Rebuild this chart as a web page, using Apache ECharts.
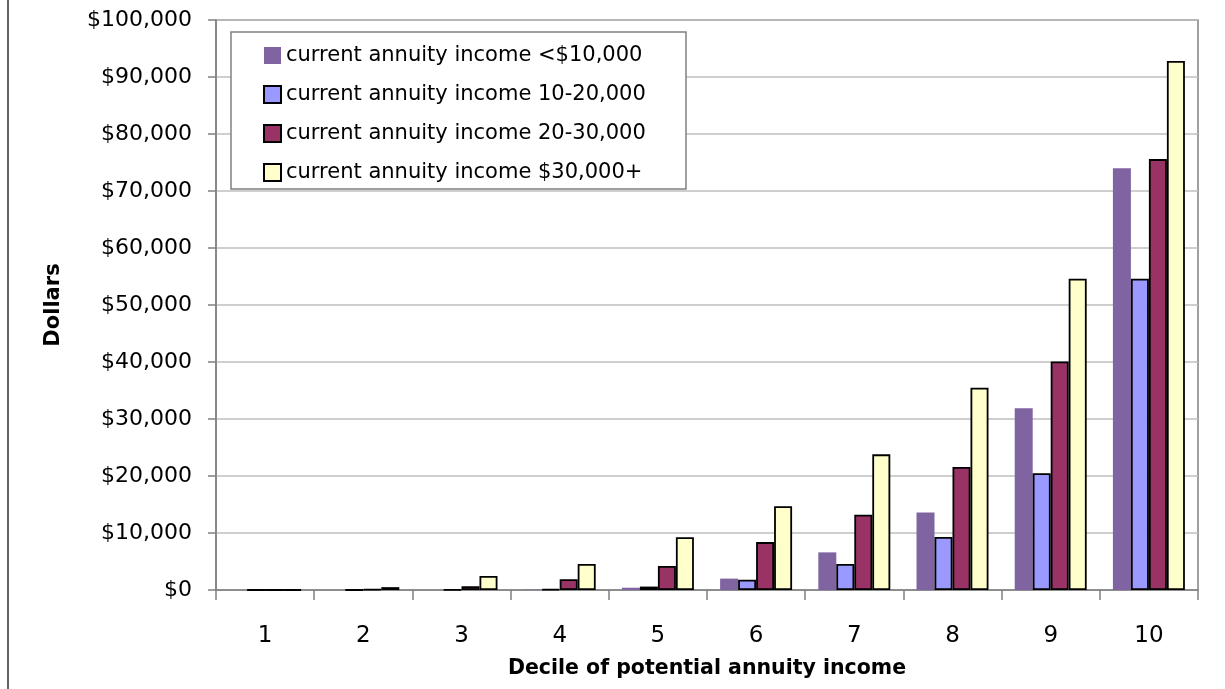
<!DOCTYPE html>
<html>
<head>
<meta charset="utf-8">
<script src="https://cdn.jsdelivr.net/npm/echarts@6/dist/echarts.min.js"></script>
<style>
  html, body { margin: 0; padding: 0; background: #ffffff; }
  #chart { width: 1225px; height: 689px; }
</style>
</head>
<body>
<div id="chart"></div>
<script>
// Deciles of potential annuity income
const deciles = ['1', '2', '3', '4', '5', '6', '7', '8', '9', '10'];

// Series names (current annuity income bands)
const seriesNames = [
  'current annuity income <$10,000',
  'current annuity income 10-20,000',
  'current annuity income 20-30,000',
  'current annuity income $30,000+'
];

// Dollar values per decile
const incomeUnder10k = [0, 0, 0, 50, 400, 2000, 6600, 13600, 31900, 74000];
const income10to20k  = [0, 0, 50, 150, 600, 1800, 4550, 9300, 20500, 54600];
const income20to30k  = [0, 100, 650, 1900, 4200, 8400, 13200, 21600, 40100, 75600];
const income30kPlus  = [0, 500, 2450, 4550, 9250, 14700, 23800, 35500, 54600, 92800];

const yMin = 0, yMax = 100000, yStep = 10000;

const FONT = 'DejaVu Sans';

function dollars(v) {
  return '$' + v.toLocaleString('en-US');
}

const chart = echarts.init(document.getElementById('chart'));

const colors = ['#8064A2', '#9999FF', '#993366', '#FFFFCC'];
const dataSets = [incomeUnder10k, income10to20k, income20to30k, income30kPlus];

const series = dataSets.map((d, i) => ({
  name: seriesNames[i],
  type: 'bar',
  data: d,
  barGap: '0%',
  barCategoryGap: '26.7%',
  itemStyle: i === 0
    ? { color: colors[i], borderWidth: 0 }
    : { color: colors[i], borderColor: '#000000', borderWidth: 1.8 },
  emphasis: { disabled: true }
}));

chart.setOption({
  animation: false,
  backgroundColor: '#ffffff',
  textStyle: { fontFamily: FONT },
  grid: {
    left: 216, right: 27, top: 20, bottom: 99,
    show: true, borderColor: '#808080', borderWidth: 1.5,
    backgroundColor: 'transparent'
  },
  legend: {
    orient: 'vertical',
    left: 231, top: 32,
    padding: [13, 10, 10, 32],
    itemWidth: 17, itemHeight: 17, itemGap: 18,
    icon: 'rect',
    z: 20,
    textStyle: { fontFamily: FONT, fontSize: 21, color: '#000000' },
    data: seriesNames
  },
  graphic: [
    {
      type: 'rect', z: 10,
      shape: { x: 231, y: 32, width: 455, height: 157 },
      style: { fill: '#ffffff', stroke: '#808080', lineWidth: 1.5 }
    },
    {
      type: 'line', z: 10,
      shape: { x1: 8, y1: 0, x2: 8, y2: 689 },
      style: { stroke: '#303030', lineWidth: 1.5 }
    }
  ],
  xAxis: {
    type: 'category',
    data: deciles,
    boundaryGap: true,
    name: 'Decile of potential annuity income',
    nameLocation: 'middle',
    nameGap: 68,
    nameTextStyle: { fontFamily: FONT, fontSize: 20.5, fontWeight: 'bold', color: '#000000' },
    axisLine: { lineStyle: { color: '#808080', width: 1.5 } },
    axisTick: { show: true, length: 10, alignWithLabel: false, lineStyle: { color: '#808080', width: 1.5 } },
    axisLabel: { margin: 35, fontFamily: FONT, fontSize: 23, color: '#000000' },
    splitLine: { show: false }
  },
  yAxis: {
    type: 'value',
    min: yMin, max: yMax, interval: yStep,
    name: 'Dollars',
    nameLocation: 'middle',
    nameGap: 152,
    nameRotate: 90,
    nameTextStyle: { fontFamily: FONT, fontSize: 21, fontWeight: 'bold', color: '#000000' },
    axisLine: { show: true, lineStyle: { color: '#808080', width: 1.5 } },
    axisTick: { show: true, length: 8, lineStyle: { color: '#808080', width: 1.5 } },
    axisLabel: { margin: 24, fontFamily: FONT, fontSize: 22, color: '#000000', formatter: dollars },
    splitLine: { show: true, lineStyle: { color: '#BFBFBF', width: 1.5 } }
  },
  series: series
});
</script>
</body>
</html>
